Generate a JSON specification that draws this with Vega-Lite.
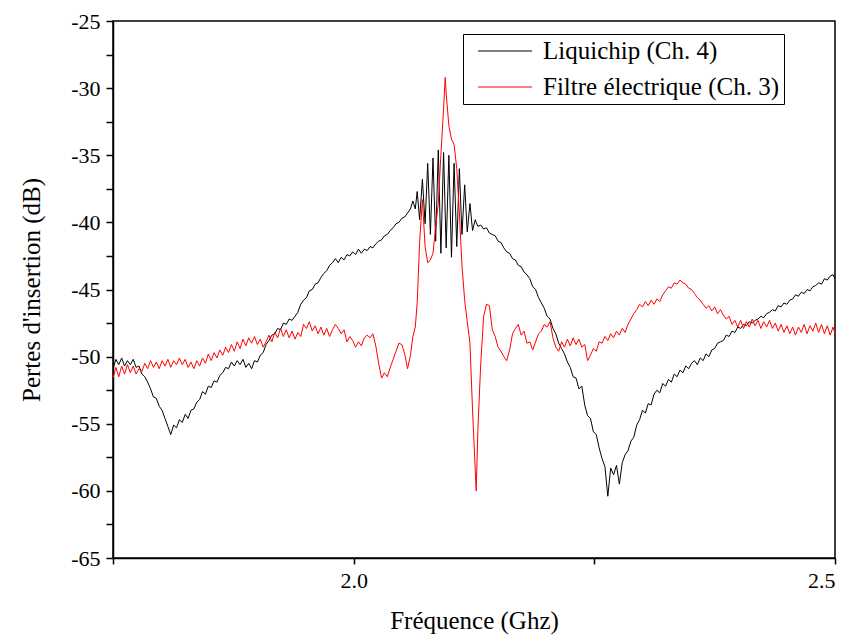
{
  "$schema": "https://vega.github.io/schema/vega-lite/v6.json",
  "width": 722,
  "height": 537,
  "autosize": {"type": "none"},
  "padding": {"left": 113, "top": 21, "right": 13, "bottom": 78},
  "background": "white",
  "data": {"values": [
    {"f":1.750,"l":-50.9,"r":-51.6},{"f":1.753,"l":-50.2,"r":-50.8},{"f":1.756,"l":-50.6,"r":-51.5},{"f":1.759,"l":-50.1,"r":-50.7},
    {"f":1.762,"l":-50.7,"r":-51.3},{"f":1.765,"l":-50.3,"r":-50.6},{"f":1.768,"l":-50.6,"r":-51.2},{"f":1.771,"l":-50.2,"r":-50.7},
    {"f":1.774,"l":-50.8,"r":-51.3},{"f":1.777,"l":-50.7,"r":-50.9},{"f":1.780,"l":-51.3,"r":-51.1},{"f":1.783,"l":-51.5,"r":-50.5},
    {"f":1.786,"l":-51.9,"r":-50.9},{"f":1.789,"l":-52.4,"r":-50.3},{"f":1.792,"l":-53.0,"r":-50.8},{"f":1.795,"l":-53.1,"r":-50.4},
    {"f":1.798,"l":-53.7,"r":-50.9},{"f":1.801,"l":-54.0,"r":-50.3},{"f":1.804,"l":-54.6,"r":-50.7},{"f":1.807,"l":-55.2,"r":-50.2},
    {"f":1.810,"l":-55.8,"r":-50.8},{"f":1.813,"l":-55.1,"r":-50.3},{"f":1.816,"l":-55.3,"r":-50.6},{"f":1.819,"l":-54.7,"r":-50.1},
    {"f":1.822,"l":-54.9,"r":-50.6},{"f":1.825,"l":-54.3,"r":-50.2},{"f":1.828,"l":-54.6,"r":-50.8},{"f":1.831,"l":-54.0,"r":-50.4},
    {"f":1.834,"l":-53.9,"r":-50.9},{"f":1.837,"l":-53.4,"r":-50.3},{"f":1.840,"l":-53.2,"r":-50.7},{"f":1.843,"l":-52.6,"r":-50.1},
    {"f":1.846,"l":-52.8,"r":-50.5},{"f":1.849,"l":-52.2,"r":-49.8},{"f":1.852,"l":-52.3,"r":-50.3},{"f":1.855,"l":-51.8,"r":-49.7},
    {"f":1.858,"l":-51.9,"r":-50.1},{"f":1.861,"l":-51.4,"r":-49.5},{"f":1.864,"l":-51.2,"r":-49.9},{"f":1.867,"l":-50.8,"r":-49.3},
    {"f":1.870,"l":-50.9,"r":-49.7},{"f":1.873,"l":-50.4,"r":-49.1},{"f":1.876,"l":-50.7,"r":-49.6},{"f":1.879,"l":-50.3,"r":-48.9},
    {"f":1.882,"l":-50.6,"r":-49.4},{"f":1.885,"l":-50.2,"r":-48.7},{"f":1.888,"l":-50.8,"r":-49.2},{"f":1.891,"l":-50.5,"r":-48.6},
    {"f":1.894,"l":-50.9,"r":-49.0},{"f":1.897,"l":-50.3,"r":-48.5},{"f":1.900,"l":-50.4,"r":-49.1},{"f":1.903,"l":-49.9,"r":-48.7},
    {"f":1.906,"l":-49.7,"r":-49.3},{"f":1.909,"l":-49.1,"r":-48.9},{"f":1.912,"l":-48.8,"r":-48.4},{"f":1.915,"l":-48.4,"r":-48.9},
    {"f":1.918,"l":-48.3,"r":-48.2},{"f":1.921,"l":-47.9,"r":-48.6},{"f":1.924,"l":-48.0,"r":-47.9},{"f":1.927,"l":-47.5,"r":-48.5},
    {"f":1.930,"l":-47.6,"r":-48.0},{"f":1.933,"l":-47.2,"r":-48.6},{"f":1.936,"l":-47.3,"r":-48.1},{"f":1.939,"l":-47.0,"r":-48.7},
    {"f":1.942,"l":-46.7,"r":-48.2},{"f":1.945,"l":-46.1,"r":-48.5},{"f":1.948,"l":-45.8,"r":-47.6},{"f":1.951,"l":-45.6,"r":-47.9},
    {"f":1.954,"l":-45.1,"r":-47.4},{"f":1.957,"l":-45.0,"r":-48.1},{"f":1.960,"l":-44.6,"r":-47.7},{"f":1.963,"l":-44.5,"r":-48.3},
    {"f":1.966,"l":-44.1,"r":-47.8},{"f":1.969,"l":-43.8,"r":-48.4},{"f":1.972,"l":-43.6,"r":-47.9},{"f":1.975,"l":-43.2,"r":-48.5},
    {"f":1.978,"l":-43.0,"r":-48.0},{"f":1.981,"l":-42.7,"r":-47.6},{"f":1.984,"l":-43.0,"r":-47.9},{"f":1.987,"l":-42.6,"r":-48.3},
    {"f":1.990,"l":-42.8,"r":-48.0},{"f":1.993,"l":-42.4,"r":-48.9},{"f":1.996,"l":-42.5,"r":-48.5},{"f":1.999,"l":-42.2,"r":-48.8},
    {"f":2.002,"l":-42.4,"r":-49.3},{"f":2.005,"l":-42.0,"r":-48.9},{"f":2.008,"l":-42.3,"r":-49.2},{"f":2.011,"l":-42.0,"r":-48.6},
    {"f":2.014,"l":-42.1,"r":-48.4},{"f":2.017,"l":-41.8,"r":-48.6},{"f":2.020,"l":-41.9,"r":-48.3},{"f":2.023,"l":-41.6,"r":-49.2},
    {"f":2.026,"l":-41.4,"r":-50.5},{"f":2.029,"l":-41.3,"r":-51.6},{"f":2.032,"l":-41.0,"r":-51.2},{"f":2.035,"l":-40.9,"r":-51.5},
    {"f":2.038,"l":-40.6,"r":-50.8},{"f":2.041,"l":-40.4,"r":-50.2},{"f":2.044,"l":-40.1,"r":-49.6},{"f":2.047,"l":-40.0,"r":-49.0},
    {"f":2.050,"l":-39.7,"r":-49.1},{"f":2.053,"l":-39.6,"r":-49.8},{"f":2.056,"l":-39.3,"r":-50.9},{"f":2.059,"l":-39.0,"r":-49.9},
    {"f":2.0615,"l":-38.4,"r":-48.5},{"f":2.0640,"l":-39.0,"r":-47.8},{"f":2.0660,"l":-37.7,"r":-46.0},{"f":2.0685,"l":-39.8,"r":-41.5},
    {"f":2.0714,"l":-36.8,"r":-38.3},{"f":2.0742,"l":-40.1,"r":-41.8},{"f":2.0769,"l":-35.6,"r":-43.0},{"f":2.0797,"l":-40.9,"r":-42.8},
    {"f":2.0824,"l":-35.2,"r":-42.3},{"f":2.0852,"l":-41.4,"r":-40.3},{"f":2.0879,"l":-34.6,"r":-38.6},{"f":2.0906,"l":-42.3,"r":-35.0},
    {"f":2.0934,"l":-34.8,"r":-31.5},{"f":2.0951,"l":-39.3,"r":-29.2},{"f":2.0961,"l":-41.9,"r":-30.4},{"f":2.0989,"l":-35.0,"r":-32.8},
    {"f":2.1016,"l":-42.6,"r":-33.8},{"f":2.1043,"l":-35.6,"r":-34.2},{"f":2.1071,"l":-41.8,"r":-36.0},{"f":2.1098,"l":-36.0,"r":-39.3},
    {"f":2.1125,"l":-40.9,"r":-43.2},{"f":2.1153,"l":-37.2,"r":-45.8},{"f":2.1180,"l":-40.7,"r":-47.4},{"f":2.1208,"l":-38.6,"r":-49.0},
    {"f":2.1235,"l":-40.6,"r":-54.0},{"f":2.1263,"l":-39.8,"r":-58.5},{"f":2.1273,"l":-40.0,"r":-60.0},{"f":2.1290,"l":-40.3,"r":-55.5},
    {"f":2.132,"l":-40.2,"r":-50.5},{"f":2.135,"l":-40.5,"r":-47.0},{"f":2.138,"l":-40.4,"r":-46.1},{"f":2.141,"l":-40.8,"r":-46.2},
    {"f":2.144,"l":-40.9,"r":-48.0},{"f":2.147,"l":-41.0,"r":-48.5},{"f":2.150,"l":-41.4,"r":-49.3},{"f":2.153,"l":-41.5,"r":-49.6},
    {"f":2.156,"l":-41.9,"r":-50.0},{"f":2.159,"l":-42.2,"r":-50.3},{"f":2.162,"l":-42.3,"r":-49.5},{"f":2.165,"l":-42.7,"r":-48.3},
    {"f":2.168,"l":-42.8,"r":-47.9},{"f":2.171,"l":-43.2,"r":-47.6},{"f":2.174,"l":-43.3,"r":-48.4},{"f":2.177,"l":-43.7,"r":-48.1},
    {"f":2.180,"l":-43.9,"r":-49.0},{"f":2.183,"l":-44.2,"r":-48.9},{"f":2.186,"l":-44.8,"r":-49.5},{"f":2.189,"l":-45.0,"r":-48.9},
    {"f":2.192,"l":-45.6,"r":-48.3},{"f":2.195,"l":-46.0,"r":-48.1},{"f":2.198,"l":-46.4,"r":-47.6},{"f":2.201,"l":-47.0,"r":-47.8},
    {"f":2.204,"l":-47.2,"r":-47.4},{"f":2.207,"l":-47.9,"r":-48.6},{"f":2.210,"l":-48.3,"r":-49.3},{"f":2.213,"l":-49.0,"r":-49.6},
    {"f":2.216,"l":-49.4,"r":-48.9},{"f":2.219,"l":-49.8,"r":-49.3},{"f":2.222,"l":-50.4,"r":-48.7},{"f":2.225,"l":-50.8,"r":-49.2},
    {"f":2.228,"l":-51.5,"r":-48.6},{"f":2.231,"l":-51.6,"r":-49.1},{"f":2.234,"l":-52.4,"r":-48.7},{"f":2.237,"l":-52.2,"r":-49.3},
    {"f":2.240,"l":-53.6,"r":-49.1},{"f":2.243,"l":-54.4,"r":-50.3},{"f":2.246,"l":-54.6,"r":-49.9},{"f":2.249,"l":-55.6,"r":-49.4},
    {"f":2.252,"l":-55.8,"r":-49.6},{"f":2.255,"l":-56.8,"r":-48.9},{"f":2.258,"l":-57.6,"r":-49.0},{"f":2.261,"l":-58.2,"r":-48.5},
    {"f":2.264,"l":-60.4,"r":-48.8},{"f":2.267,"l":-58.3,"r":-48.3},{"f":2.270,"l":-58.8,"r":-48.6},{"f":2.273,"l":-58.1,"r":-48.1},
    {"f":2.276,"l":-59.5,"r":-48.4},{"f":2.279,"l":-57.9,"r":-47.9},{"f":2.282,"l":-57.3,"r":-48.2},{"f":2.285,"l":-57.0,"r":-47.6},
    {"f":2.288,"l":-56.3,"r":-47.2},{"f":2.291,"l":-56.0,"r":-46.8},{"f":2.294,"l":-55.1,"r":-46.5},{"f":2.297,"l":-54.7,"r":-46.1},
    {"f":2.300,"l":-54.0,"r":-46.3},{"f":2.303,"l":-54.2,"r":-45.9},{"f":2.306,"l":-53.5,"r":-46.2},{"f":2.309,"l":-53.6,"r":-45.8},
    {"f":2.312,"l":-52.8,"r":-46.1},{"f":2.315,"l":-52.5,"r":-45.7},{"f":2.318,"l":-52.7,"r":-45.9},{"f":2.321,"l":-52.0,"r":-45.4},
    {"f":2.324,"l":-52.2,"r":-45.1},{"f":2.327,"l":-51.7,"r":-44.8},{"f":2.330,"l":-51.9,"r":-44.9},{"f":2.333,"l":-51.3,"r":-44.5},
    {"f":2.336,"l":-51.5,"r":-44.6},{"f":2.339,"l":-51.0,"r":-44.3},{"f":2.342,"l":-51.2,"r":-44.5},{"f":2.345,"l":-50.7,"r":-44.6},
    {"f":2.348,"l":-50.9,"r":-44.9},{"f":2.351,"l":-50.5,"r":-45.0},{"f":2.354,"l":-50.3,"r":-45.3},{"f":2.357,"l":-50.6,"r":-45.6},
    {"f":2.360,"l":-50.1,"r":-45.8},{"f":2.363,"l":-50.3,"r":-46.1},{"f":2.366,"l":-49.8,"r":-46.4},{"f":2.369,"l":-50.0,"r":-46.2},
    {"f":2.372,"l":-49.5,"r":-46.6},{"f":2.375,"l":-49.4,"r":-46.3},{"f":2.378,"l":-49.0,"r":-46.8},{"f":2.381,"l":-48.9,"r":-46.5},
    {"f":2.384,"l":-48.8,"r":-46.9},{"f":2.387,"l":-48.4,"r":-47.2},{"f":2.390,"l":-48.5,"r":-47.0},{"f":2.393,"l":-48.1,"r":-47.6},
    {"f":2.396,"l":-48.2,"r":-47.3},{"f":2.399,"l":-47.8,"r":-47.8},{"f":2.402,"l":-47.9,"r":-47.3},{"f":2.405,"l":-47.6,"r":-47.9},
    {"f":2.408,"l":-47.7,"r":-47.4},{"f":2.411,"l":-47.4,"r":-47.8},{"f":2.414,"l":-47.5,"r":-47.2},{"f":2.417,"l":-47.3,"r":-47.7},
    {"f":2.420,"l":-47.2,"r":-47.3},{"f":2.423,"l":-47.0,"r":-47.9},{"f":2.426,"l":-47.1,"r":-47.4},{"f":2.429,"l":-46.8,"r":-47.8},
    {"f":2.432,"l":-46.7,"r":-47.3},{"f":2.435,"l":-46.5,"r":-47.9},{"f":2.438,"l":-46.6,"r":-47.5},{"f":2.441,"l":-46.2,"r":-48.1},
    {"f":2.444,"l":-46.3,"r":-47.6},{"f":2.447,"l":-46.0,"r":-48.2},{"f":2.450,"l":-46.1,"r":-47.7},{"f":2.453,"l":-45.8,"r":-48.3},
    {"f":2.456,"l":-45.7,"r":-47.8},{"f":2.459,"l":-45.4,"r":-48.4},{"f":2.462,"l":-45.5,"r":-47.8},{"f":2.465,"l":-45.2,"r":-48.2},
    {"f":2.468,"l":-45.3,"r":-47.6},{"f":2.471,"l":-45.0,"r":-48.3},{"f":2.474,"l":-45.1,"r":-47.7},{"f":2.477,"l":-44.8,"r":-48.1},
    {"f":2.480,"l":-44.7,"r":-47.5},{"f":2.483,"l":-44.5,"r":-48.2},{"f":2.486,"l":-44.6,"r":-47.6},{"f":2.489,"l":-44.2,"r":-48.3},
    {"f":2.492,"l":-44.3,"r":-47.7},{"f":2.495,"l":-44.0,"r":-48.4},{"f":2.498,"l":-43.9,"r":-47.8},{"f":2.500,"l":-44.2,"r":-48.3}
  ]},
  "transform": [{"fold": ["l", "r"], "as": ["s", "v"]}],
  "mark": {"type": "line", "strokeWidth": 1, "clip": true},
  "encoding": {
    "x": {
      "field": "f", "type": "quantitative",
      "scale": {"domain": [1.75, 2.5], "nice": false, "zero": false},
      "axis": {
        "title": "Fréquence (Ghz)",
        "values": [1.75, 2.0, 2.25, 2.5],
        "labelExpr": "datum.value == 2 ? '2.0' : (datum.value == 2.5 ? '2.5' : '')",
        "tickSize": 6,
        "labelPadding": 6,
        "titlePadding": 17,
        "labelFont": "Liberation Serif",
        "titleFont": "Liberation Serif",
        "labelFontSize": 22,
        "titleFontSize": 25
      }
    },
    "y": {
      "field": "v", "type": "quantitative",
      "scale": {"domain": [-65, -25], "nice": false, "zero": false},
      "axis": {
        "title": "Pertes d'insertion (dB)",
        "values": [-65, -62.5, -60, -57.5, -55, -52.5, -50, -47.5, -45, -42.5, -40, -37.5, -35, -32.5, -30, -27.5, -25],
        "labelExpr": "datum.value % 5 == 0 ? '-' + format(-datum.value, 'd') : ''",
        "tickSize": 7,
        "labelPadding": 6,
        "titlePadding": 26,
        "labelFont": "Liberation Serif",
        "titleFont": "Liberation Serif",
        "labelFontSize": 22,
        "titleFontSize": 25
      }
    },
    "color": {
      "field": "s", "type": "nominal",
      "scale": {"domain": ["l", "r"], "range": ["#000000", "#ff0000"]},
      "legend": {
        "title": null,
        "orient": "none",
        "legendX": 350,
        "legendY": 13,
        "strokeColor": "black",
        "fillColor": "white",
        "padding": 4,
        "symbolType": "M-2.16,0H2.16",
        "symbolSize": 625,
        "symbolStrokeWidth": 1,
        "symbolOffset": 25,
        "labelFont": "Liberation Serif",
        "labelFontSize": 25,
        "labelColor": "black",
        "labelOffset": 25,
        "labelLimit": 500,
        "rowPadding": 10,
        "labelExpr": "datum.value == 'l' ? 'Liquichip (Ch. 4)' : 'Filtre électrique (Ch. 3)\u00a0\u00a0\u00a0'"
      }
    }
  },
  "config": {
    "view": {"stroke": "black", "strokeWidth": 1.5},
    "font": "Liberation Serif",
    "axis": {
      "grid": false,
      "domainColor": "black",
      "domainWidth": 1.5,
      "tickColor": "black",
      "tickWidth": 1.5,
      "labelColor": "black",
      "titleFontWeight": "normal",
      "titleColor": "black"
    }
  }
}
